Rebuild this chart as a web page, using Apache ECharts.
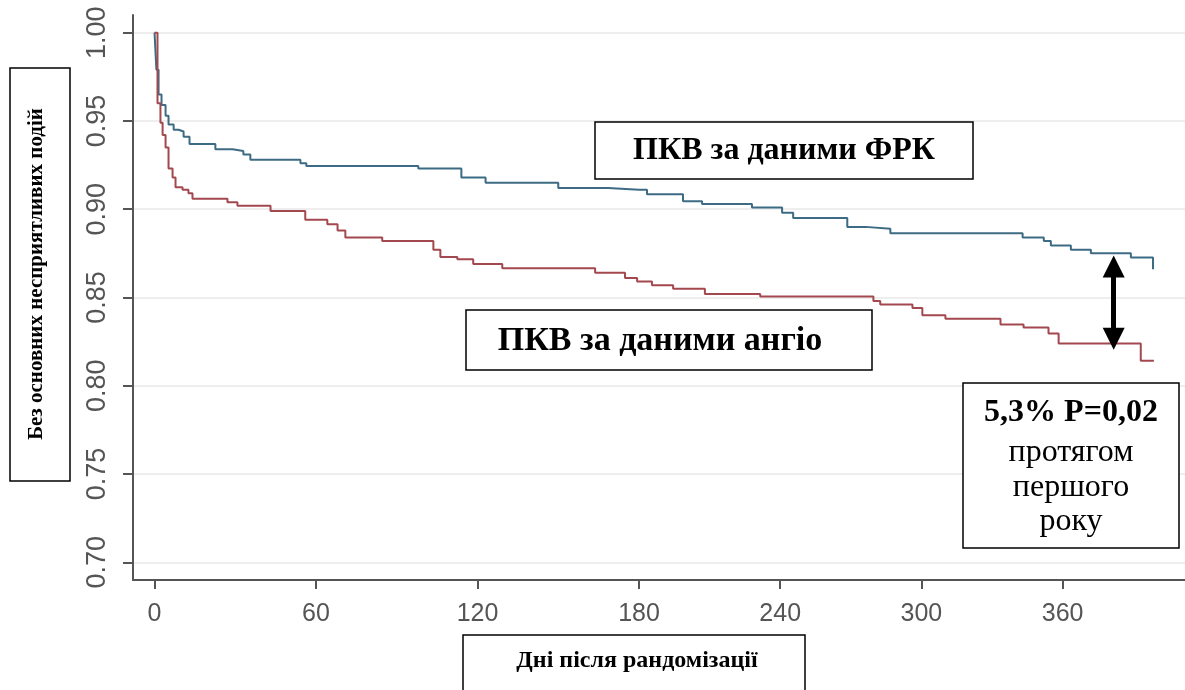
<!DOCTYPE html>
<html><head><meta charset="utf-8">
<script src="https://cdn.jsdelivr.net/npm/echarts@6/dist/echarts.min.js"></script>
<style>html,body{margin:0;padding:0;background:#fff}#c{width:1185px;height:690px}</style>
</head><body><div id="c"></div>
<script>
// ---- data ----
const xTicksLeft = [0, 60, 120, 180];
const xTicksRight = [240, 300, 360];
const yTicks = [0.70, 0.75, 0.80, 0.85, 0.90, 0.95, 1.00];

const ffrDays = [0, 0.7, 1.5, 2.6, 4.1, 5.2, 7.1, 8.9, 10.8, 13, 22.6, 29, 33, 35.6, 54.2, 56.4, 98, 114, 123, 150, 168.5,
  183.4, 198.7, 206.8, 228, 240.8, 245.5, 268.5, 276.2, 286.8, 343, 352, 355, 363.5, 372, 389, 398.4];
const ffrSurv = [1.000, 0.979, 0.965, 0.959, 0.953, 0.948, 0.945, 0.944, 0.941, 0.937, 0.934, 0.933, 0.931, 0.928, 0.926, 0.9245, 0.923, 0.918, 0.915, 0.912, 0.911,
  0.9085, 0.9045, 0.903, 0.901, 0.898, 0.895, 0.890, 0.889, 0.8864, 0.884, 0.882, 0.8795, 0.877, 0.875, 0.8727, 0.866];

const angioDays = [0, 1.1, 2.2, 3, 4.1, 5.2, 6.7, 7.8, 10.4, 12.6, 14.1, 27.1, 30.8, 43.1, 56, 64.2, 68, 70.9, 84.6, 103.6, 106.2, 112.5, 118.4, 129.2, 163.7, 174.8, 179.3,
  185.5, 194.5, 208, 231.5, 279.6, 282.5, 296.2, 300.4, 310.2, 333.6, 343.4, 354, 358.3, 393.2, 398.8];
const angioSurv = [1.000, 0.960, 0.949, 0.942, 0.935, 0.923, 0.918, 0.9125, 0.911, 0.909, 0.906, 0.904, 0.902, 0.899, 0.894, 0.8915, 0.888, 0.884, 0.882, 0.877, 0.873, 0.8716, 0.869, 0.8665, 0.864, 0.861, 0.859,
  0.857, 0.855, 0.852, 0.8506, 0.848, 0.846, 0.844, 0.840, 0.838, 0.8347, 0.833, 0.8296, 0.824, 0.8142, 0.8142];

const arrowDay = 381.7;
const arrowTop = 0.8676;
const arrowBottom = 0.8267;

const yTitle = 'Без основних несприятливих подій';
const xTitle = 'Дні після рандомізації';
const ffrLabel = 'ПКВ за даними ФРК';
const angioLabel = 'ПКВ за даними ангіо';
const noteLines = ['5,3% P=0,02', 'протягом', 'першого', 'року'];

// ---- build ----
const SPLIT = 180;
function pairs(d, v) { return d.map((x, i) => [x, v[i]]); }
function splitAt(pts, s) {
  let vs = pts[0][1];
  pts.forEach(p => { if (p[0] <= s) vs = p[1]; });
  const left = pts.filter(p => p[0] <= s).concat([[s, vs]]);
  const right = [[s, vs]].concat(pts.filter(p => p[0] > s));
  return [left, right];
}
const [ffrL, ffrR] = splitAt(pairs(ffrDays, ffrSurv), SPLIT);
const [angL, angR] = splitAt(pairs(angioDays, angioSurv), SPLIT);

const BLUE = '#3d6b84', RED = '#a2484e', AX = '#555';
const SERIF = '"Liberation Serif","Times New Roman",serif';
const gridLine = { show: true, lineStyle: { color: '#e9e9e9', width: 1.5 } };
const yBase = { type: 'value', min: 0.69, max: 1.01 };
const xLabel = { color: AX, fontSize: 25, fontFamily: '"Liberation Sans",Arial,sans-serif', margin: 22 };

function line(data, color, xi, extra) {
  return Object.assign({ type: 'line', data, xAxisIndex: xi, yAxisIndex: xi, step: 'end', showSymbol: false, symbol: 'none',
    lineStyle: { color, width: 2 }, itemStyle: { color }, silent: true, animation: false, z: 3 }, extra || {});
}
function box(x, y, w, h) {
  return { type: 'rect', shape: { x, y, width: w, height: h }, style: { fill: '#fff', stroke: '#000', lineWidth: 1.5 }, z: 100 };
}
function txt(x, y, text, font, rot) {
  return { type: 'text', x, y, rotation: rot || 0, z: 101,
    style: { text, font, fill: '#000', textAlign: 'center', textVerticalAlign: 'middle', align: 'center', verticalAlign: 'middle' } };
}

const chart = echarts.init(document.getElementById('c'), null, { renderer: 'canvas' });
chart.setOption({
  backgroundColor: '#fff',
  animation: false,
  grid: [
    { left: 133, width: 506, top: 15, bottom: 110 },
    { left: 639, right: 0, top: 15, bottom: 110 }
  ],
  xAxis: [
    { type: 'value', gridIndex: 0, min: -8, max: 180,
      axisLine: { onZero: false, lineStyle: { color: AX, width: 2 } },
      axisTick: { show: true, length: 9, lineStyle: { color: AX, width: 2 }, customValues: xTicksLeft },
      axisLabel: Object.assign({ customValues: xTicksLeft }, xLabel), splitLine: { show: false } },
    { type: 'value', gridIndex: 1, min: 180, max: 412,
      axisLine: { onZero: false, lineStyle: { color: AX, width: 2 } },
      axisTick: { show: true, length: 9, lineStyle: { color: AX, width: 2 }, customValues: xTicksRight },
      axisLabel: Object.assign({ customValues: xTicksRight }, xLabel), splitLine: { show: false } }
  ],
  yAxis: [
    Object.assign({ gridIndex: 0,
      axisLine: { show: true, onZero: false, lineStyle: { color: AX, width: 2 } },
      axisTick: { show: true, length: 10, lineStyle: { color: AX, width: 2 }, customValues: yTicks },
      axisLabel: { customValues: yTicks, rotate: 90, margin: 22, color: AX, fontSize: 27, fontFamily: '"Liberation Sans",Arial,sans-serif',
        formatter: v => v.toFixed(2) },
      splitLine: Object.assign({ customValues: yTicks }, gridLine) }, yBase),
    Object.assign({ gridIndex: 1,
      axisLine: { show: false }, axisTick: { show: false, customValues: yTicks },
      axisLabel: { show: false, customValues: yTicks },
      splitLine: Object.assign({ customValues: yTicks }, gridLine) }, yBase)
  ],
  series: [
    line(ffrL, BLUE, 0), line(angL, RED, 0),
    line(ffrR, BLUE, 1, {
      markLine: { silent: true, animation: false, symbol: ['triangle', 'triangle'], symbolSize: [22, 22],
        label: { show: false }, lineStyle: { color: '#000', width: 5, type: 'solid' },
        data: [[{ coord: [arrowDay, arrowTop] }, { coord: [arrowDay, arrowBottom] }]] } }),
    line(angR, RED, 1)
  ],
  graphic: [
    box(10, 68, 60, 413), txt(37, 274, yTitle, 'bold 21px ' + SERIF, Math.PI / 2),
    box(595, 122, 378, 57), txt(784, 151, ffrLabel, 'bold 32px ' + SERIF),
    box(466, 310, 406, 60), txt(660, 341, angioLabel, 'bold 34px ' + SERIF),
    box(963, 383, 216, 165),
    txt(1071, 413, noteLines[0], 'bold 32px ' + SERIF),
    txt(1071, 453, noteLines[1], '32px ' + SERIF),
    txt(1071, 488, noteLines[2], '32px ' + SERIF),
    txt(1071, 522, noteLines[3], '32px ' + SERIF),
    box(463, 635, 342, 70), txt(637, 661, xTitle, 'bold 24px ' + SERIF)
  ]
});
</script></body></html>
